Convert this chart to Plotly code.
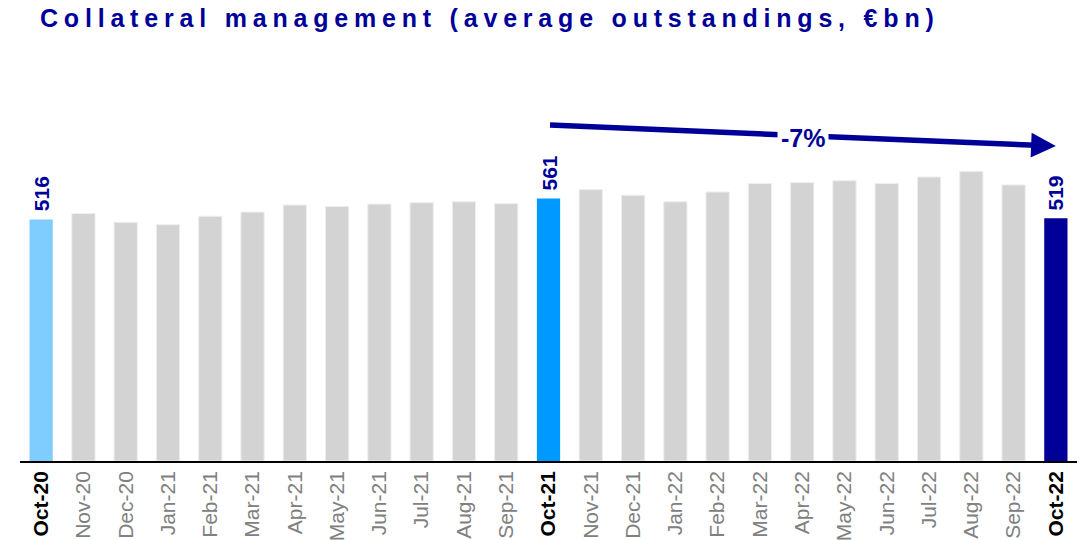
import plotly.graph_objects as go

months = ["Oct-20", "Nov-20", "Dec-20", "Jan-21", "Feb-21", "Mar-21", "Apr-21", "May-21",
          "Jun-21", "Jul-21", "Aug-21", "Sep-21", "Oct-21", "Nov-21", "Dec-21", "Jan-22",
          "Feb-22", "Mar-22", "Apr-22", "May-22", "Jun-22", "Jul-22", "Aug-22", "Sep-22", "Oct-22"]
values = [516, 529, 510, 505, 523, 532, 547, 544, 549, 552, 554, 550, 561,
          580, 568, 554, 575, 593, 595, 599, 593, 607, 619, 590, 519]
highlight = {"Oct-20": "#7FCCFF", "Oct-21": "#0099FF", "Oct-22": "#000099"}
labelled = ["Oct-20", "Oct-21", "Oct-22"]
change_label = "-7%"
title = "Collateral management (average outstandings, €bn)"

GRAY = "#D3D3D3"
NAVY = "#000099"
FONT = "Liberation Sans, Arial"

colors = [highlight.get(m, GRAY) for m in months]
ticktext = [f"<b><span style='color:#000000'>{m}</span></b>" if m in highlight else m for m in months]

fig = go.Figure(go.Bar(
    x=months, y=values,
    marker=dict(color=colors, line=dict(color="#EEEEEE", width=[0 if m in highlight else 1 for m in months])),
    width=0.55, hoverinfo="x+y",
))

annotations = []
for m, v in zip(months, values):
    if m in labelled:
        annotations.append(dict(x=m, y=v, text=f"<b>{v}</b>", textangle=-90, showarrow=False,
                                xref="x", yref="y", yanchor="bottom", yshift=6,
                                font=dict(family=FONT, size=21, color=NAVY)))

# change arrow from Oct-21 to Oct-22
annotations.append(dict(x=24.0, y=673, ax=12, ay=718, xref="x", yref="y", axref="x", ayref="y",
                        text="", showarrow=True, arrowhead=2, arrowsize=0.9, arrowwidth=5.5,
                        arrowcolor=NAVY))
annotations.append(dict(x=18.02, y=691, xref="x", yref="y", text=f"<b>{change_label}</b>",
                        showarrow=False, bgcolor="white", borderpad=3,
                        font=dict(family=FONT, size=25, color=NAVY)))

fig.update_layout(
    width=1084, height=532,
    margin=dict(l=12, r=15, t=52, b=79, autoexpand=False),
    plot_bgcolor="white", paper_bgcolor="white",
    showlegend=False,
    title=dict(text=f"<b><span style='letter-spacing:5.8px'>{title}</span></b>",
               x=0.0295, xanchor="left", y=0.98, yanchor="middle",
               font=dict(family=FONT, size=25, color=NAVY)),
    annotations=annotations,
    xaxis=dict(type="category", tickmode="array", tickvals=months, ticktext=ticktext,
               tickangle=-90, tickfont=dict(family=FONT, size=21, color="#808080"),
               showline=True, linecolor="#000000", linewidth=1.5, ticks="", showgrid=False,
               automargin=False, range=[-0.5, 24.5]),
    yaxis=dict(range=[0, 857], visible=False, showgrid=False, zeroline=False, automargin=False),
)

fig.write_html("out.html")
